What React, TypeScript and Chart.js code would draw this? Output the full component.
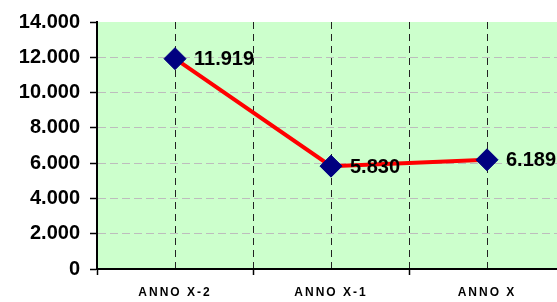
import React, { useEffect, useRef } from 'react';
import { Chart, registerables } from 'chart.js';
Chart.register(...registerables);

const categories = ['ANNO X-2', 'ANNO X-1', 'ANNO X'];
const values = [11919, 5830, 6189];
const yMin = 0;
const yMax = 14000;
const yStep = 2000;

const FONT = '"Liberation Sans", Arial, Helvetica, sans-serif';

function fmt(n: number): string {
  return String(Math.round(n)).replace(/\B(?=(\d{3})+(?!\d))/g, '.');
}

const bgPlugin = {
  id: 'plotBg',
  beforeDraw(chart: any) {
    const { ctx, chartArea } = chart;
    ctx.save();
    ctx.fillStyle = '#CCFFCC';
    ctx.fillRect(chartArea.left, chartArea.top, chartArea.right - chartArea.left, chartArea.bottom - chartArea.top);
    ctx.restore();
  },
  afterDatasetsDraw(chart: any) {
    (chart.ctx as any).letterSpacing = '2px';
  },
  afterDraw(chart: any) {
    const ctx = chart.ctx;
    (ctx as any).letterSpacing = '0px';
    const meta = chart.getDatasetMeta(0);
    ctx.save();
    ctx.font = `bold 20px ${FONT}`;
    ctx.fillStyle = '#000';
    ctx.textAlign = 'left';
    ctx.textBaseline = 'middle';
    meta.data.forEach((pt: any, i: number) => {
      ctx.fillText(fmt(values[i]), pt.x + 19, pt.y + 1);
    });
    ctx.restore();
  },
};

export default function App() {
  const ref = useRef<HTMLCanvasElement>(null);
  useEffect(() => {
    const chart = new Chart(ref.current!, {
      type: 'line',
      data: {
        datasets: [
          {
            data: values.map((v, i) => ({ x: i, y: v })),
            borderColor: '#FF0000',
            borderWidth: 4,
            tension: 0,
            pointStyle: 'rectRot',
            pointRadius: 11,
            pointHoverRadius: 11,
            pointBackgroundColor: '#000080',
            pointBorderColor: '#000080',
            pointBorderWidth: 1,
            clip: false as any,
          },
        ],
      },
      options: {
        animation: false,
        responsive: false,
        maintainAspectRatio: false,
        layout: { padding: { top: 19, right: 35, left: 0, bottom: 0 } },
        plugins: { legend: { display: false }, tooltip: { enabled: false } },
        scales: {
          x: {
            type: 'linear',
            min: -0.5,
            max: 2.5,
            afterFit: (s: any) => { s.height = 33; },
            ticks: {
              stepSize: 0.5,
              autoSkip: false,
              maxRotation: 0,
              padding: 10,
              z: 1,
              color: '#000',
              font: { family: FONT, size: 12, weight: 'bold' },
              callback: (v: any) => (Number.isInteger(Number(v)) ? categories[Number(v)] : ''),
            },
            grid: {
              color: (c: any) => (c.tick && c.tick.value === -0.5 ? 'transparent' : '#222222'),
              lineWidth: 1,
              tickLength: 6,
              tickWidth: 1.5,
              tickBorderDash: [],
              tickColor: (c: any) => (c.tick && Number.isInteger(c.tick.value) ? 'transparent' : '#000'),
            },
            border: { display: true, color: '#000', width: 2, dash: [7, 5] },
          },
          y: {
            type: 'linear',
            min: yMin,
            max: yMax,
            afterFit: (s: any) => { s.width = 97; },
            ticks: {
              stepSize: yStep,
              padding: 10,
              color: '#000',
              font: { family: FONT, size: 20, weight: 'bold' },
              callback: (v: any) => fmt(Number(v)),
            },
            grid: {
              color: (c: any) => (c.tick && (c.tick.value === yMax || c.tick.value === yMin) ? 'transparent' : '#bdbdbd'),
              lineWidth: 1,
              tickLength: 7,
              tickWidth: 1.5,
              tickBorderDash: [],
              tickColor: '#000',
            },
            border: { display: true, color: '#000', width: 2, dash: [8, 4] },
          },
        },
      },
      plugins: [bgPlugin],
    });
    return () => chart.destroy();
  }, []);
  return (
    <div style={{ position: 'fixed', left: 0, top: 0, width: 557, height: 302, overflow: 'hidden', background: '#fff' }}>
      <canvas ref={ref} width={600} height={302} style={{ display: 'block' }} />
    </div>
  );
}
